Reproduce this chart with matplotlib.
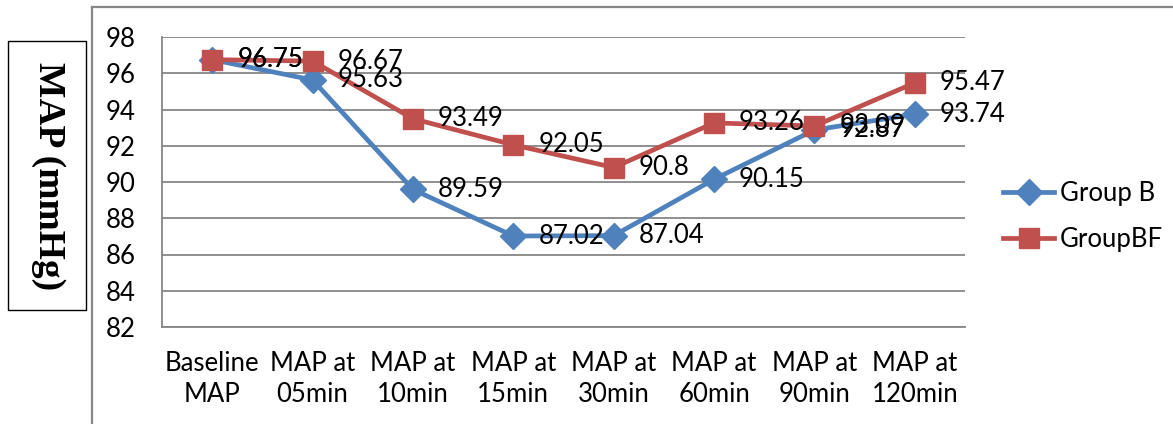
import matplotlib
matplotlib.use("Agg")
import matplotlib.pyplot as plt
from matplotlib.patches import Rectangle
from matplotlib.lines import Line2D

categories = ["Baseline\nMAP", "MAP at\n05min", "MAP at\n10min", "MAP at\n15min",
              "MAP at\n30min", "MAP at\n60min", "MAP at\n90min", "MAP at\n120min"]
group_b = [96.75, 95.63, 89.59, 87.02, 87.04, 90.15, 92.87, 93.74]
group_bf = [96.75, 96.67, 93.49, 92.05, 90.8, 93.26, 93.09, 95.47]
series_names = ["Group B", "GroupBF"]
y_ticks = [82, 84, 86, 88, 90, 92, 94, 96, 98]

W, H = 1173, 424
fig = plt.figure(figsize=(W / 100, H / 100), dpi=100)
FONT = "Lato"
FS = 18.5

ax = fig.add_axes([162 / W, 1 - 327 / H, (965 - 162) / W, (327 - 37) / H])
x = list(range(len(categories)))

blue = "#4F81BD"
red = "#C0504D"
gray = "#868686"

ax.plot(x, group_b, color=blue, lw=3.4, marker="D", ms=13, label=series_names[0], zorder=3)
ax.plot(x, group_bf, color=red, lw=3.4, marker="s", ms=14, label=series_names[1], zorder=4)

for xi, v in zip(x, group_b):
    ax.annotate(f"{v:g}", (xi, v), xytext=(18, 0), textcoords="offset points",
                ha="left", va="center", fontsize=FS, family=FONT, color="black", zorder=6)
for xi, v in zip(x, group_bf):
    ax.annotate(f"{v:g}", (xi, v), xytext=(18, 0), textcoords="offset points",
                ha="left", va="center", fontsize=FS, family=FONT, color="black", zorder=6)

ax.set_xlim(-0.5, len(categories) - 0.5)
ax.set_ylim(82, 98)
ax.set_yticks(y_ticks)
ax.set_yticklabels([str(t) for t in y_ticks], fontsize=FS, family=FONT)
ax.set_xticks(x)
ax.set_xticklabels(categories, fontsize=FS, family=FONT, linespacing=1.3)
ax.tick_params(axis="both", length=0)
ax.tick_params(axis="y", pad=19)
ax.tick_params(axis="x", pad=17)
ax.yaxis.grid(True, color=gray, lw=1.3)
ax.set_axisbelow(True)
for s in ["top", "right"]:
    ax.spines[s].set_visible(False)
for s in ["left", "bottom"]:
    ax.spines[s].set_color(gray)
    ax.spines[s].set_linewidth(1.3)

leg = fig.legend(loc="center left", bbox_to_anchor=(1003 / W, 1 - 216.5 / H),
                 frameon=False, prop={"family": FONT, "size": FS},
                 handlelength=2.0, handletextpad=0.2, labelspacing=0.8,
                 borderpad=0, borderaxespad=0)

# outer chart frame
fig.add_artist(Line2D([92 / W, 92 / W], [0, 1 - 7 / H], color=gray, lw=1.6, transform=fig.transFigure))
fig.add_artist(Line2D([92 / W, 1], [1 - 7 / H, 1 - 7 / H], color=gray, lw=1.6, transform=fig.transFigure))

# y label box
fig.add_artist(Rectangle((8 / W, 1 - 310 / H), (86 - 8) / W, (310 - 41) / H,
                         fill=False, edgecolor="black", lw=1.0, transform=fig.transFigure))
fig.text(48 / W, 1 - 176 / H, "MAP (mmHg)", rotation=-90, ha="center", va="center",
         family="Liberation Serif", weight="bold", fontsize=27)

fig.savefig("out.png", dpi=100)
